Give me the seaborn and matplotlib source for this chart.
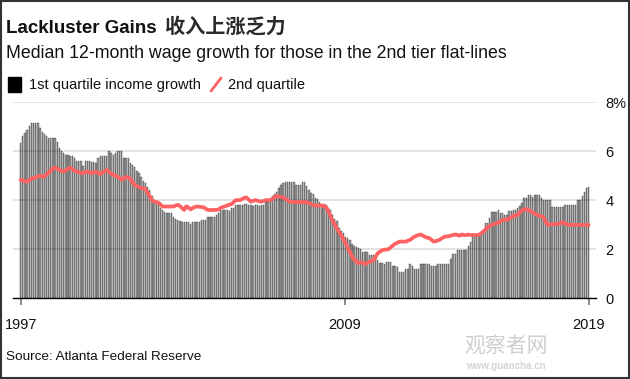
import matplotlib
matplotlib.use("Agg")
import matplotlib.pyplot as plt
from matplotlib.patches import Rectangle
from matplotlib.lines import Line2D
import numpy as np
import pandas as pd
import seaborn as sns

# Monthly values, Jan 1997 .. Jan 2019
q1_growth = [
    6.33, 6.6, 6.72, 6.84, 7.03, 7.14, 7.14, 7.14, 7.14, 6.94,
    6.76, 6.7, 6.6, 6.53, 6.53, 6.53, 6.53, 6.39, 6.12, 6.0,
    5.94, 5.85, 5.85, 5.78, 5.78, 5.7, 5.6, 5.6, 5.6, 5.4,
    5.6, 5.6, 5.6, 5.55, 5.55, 5.51, 5.7, 5.81, 5.81, 5.81,
    5.81, 6.0, 5.92, 5.85, 5.92, 6.0, 6.0, 6.0, 5.71, 5.71,
    5.71, 5.51, 5.45, 5.37, 5.17, 5.1, 4.96, 4.8, 4.69, 4.53,
    4.4, 4.15, 4.0, 3.9, 3.81, 3.67, 3.6, 3.51, 3.47, 3.47,
    3.47, 3.31, 3.25, 3.2, 3.15, 3.1, 3.1, 3.1, 3.1, 3.02,
    3.1, 3.1, 3.1, 3.1, 3.2, 3.2, 3.2, 3.33, 3.33, 3.33,
    3.33, 3.4, 3.47, 3.6, 3.6, 3.6, 3.6, 3.55, 3.67, 3.67,
    3.81, 3.81, 3.81, 3.81, 3.84, 3.84, 3.81, 3.81, 3.77, 3.81,
    3.81, 3.77, 3.81, 3.81, 3.94, 3.94, 4.0, 4.15, 4.25, 4.35,
    4.49, 4.6, 4.69, 4.73, 4.73, 4.73, 4.73, 4.73, 4.6, 4.6,
    4.6, 4.73, 4.73, 4.56, 4.42, 4.3, 4.24, 4.1, 4.06, 3.94,
    3.81, 3.81, 3.81, 3.7, 3.6, 3.4, 3.25, 3.13, 2.86, 2.75,
    2.65, 2.51, 2.45, 2.38, 2.2, 2.15, 2.1, 2.07, 2.0, 1.9,
    1.9, 1.9, 1.77, 1.77, 1.77, 1.7, 1.55, 1.43, 1.43, 1.41,
    1.49, 1.49, 1.49, 1.33, 1.3, 1.29, 1.09, 1.09, 1.09, 1.18,
    1.18, 1.4, 1.33, 1.18, 1.18, 1.18, 1.4, 1.4, 1.4, 1.4,
    1.4, 1.33, 1.33, 1.33, 1.4, 1.4, 1.4, 1.4, 1.4, 1.4,
    1.59, 1.8, 1.8, 1.97, 1.97, 1.97, 1.97, 1.97, 2.13, 2.31,
    2.54, 2.54, 2.54, 2.54, 2.65, 2.79, 3.06, 3.06, 3.29, 3.51,
    3.51, 3.51, 3.58, 3.47, 3.47, 3.4, 3.4, 3.55, 3.55, 3.58,
    3.58, 3.67, 3.75, 3.88, 4.08, 4.08, 4.19, 4.19, 4.12, 4.2,
    4.2, 4.2, 4.1, 4.0, 4.0, 4.0, 4.0, 3.74, 3.71, 3.71,
    3.71, 3.71, 3.71, 3.81, 3.81, 3.81, 3.81, 3.81, 3.81, 4.0,
    4.0, 4.15, 4.35, 4.49, 4.53,
]
q2_growth = [
    4.83, 4.8, 4.77, 4.76, 4.82, 4.88, 4.9, 4.93, 4.97, 4.99,
    4.97, 4.95, 5.05, 5.13, 5.2, 5.3, 5.33, 5.28, 5.23, 5.2,
    5.17, 5.22, 5.28, 5.33, 5.27, 5.2, 5.17, 5.14, 5.12, 5.1,
    5.14, 5.17, 5.12, 5.1, 5.14, 5.17, 5.1, 5.06, 5.12, 5.18,
    5.23, 5.16, 5.08, 5.03, 5.0, 4.96, 4.9, 4.83, 4.9, 4.95,
    4.93, 4.86, 4.74, 4.62, 4.57, 4.53, 4.5, 4.48, 4.45, 4.3,
    4.15, 4.0, 3.94, 3.92, 3.9, 3.82, 3.74, 3.74, 3.74, 3.74,
    3.74, 3.74, 3.78, 3.81, 3.76, 3.68, 3.6, 3.75, 3.7, 3.62,
    3.68, 3.72, 3.74, 3.73, 3.72, 3.71, 3.65, 3.6, 3.6, 3.6,
    3.6, 3.6, 3.62, 3.69, 3.72, 3.75, 3.78, 3.82, 3.84, 3.92,
    4.0, 4.0, 4.0, 4.05, 4.1, 4.11, 4.02, 3.94, 3.97, 4.0,
    3.98, 3.95, 3.94, 3.97, 4.0, 4.0, 4.0, 4.05, 4.12, 4.17,
    4.15, 4.13, 4.11, 4.05, 4.0, 3.94, 3.93, 3.92, 3.92, 3.92,
    3.92, 3.92, 3.92, 3.91, 3.88, 3.85, 3.8, 3.78, 3.78, 3.78,
    3.78, 3.78, 3.7, 3.55, 3.35, 3.15, 3.0, 2.85, 2.7, 2.55,
    2.41, 2.25, 2.07, 1.9, 1.7, 1.58, 1.5, 1.43, 1.47, 1.45,
    1.4, 1.43, 1.48, 1.52, 1.55, 1.7, 1.84, 1.9, 1.96, 1.98,
    1.99, 2.0, 2.08, 2.15, 2.22, 2.26, 2.31, 2.31, 2.31, 2.31,
    2.35, 2.38, 2.45, 2.51, 2.55, 2.58, 2.6, 2.55, 2.5, 2.47,
    2.45, 2.38, 2.31, 2.33, 2.36, 2.4, 2.46, 2.51, 2.52, 2.53,
    2.56, 2.58, 2.6, 2.58, 2.55, 2.6, 2.58, 2.57, 2.6, 2.58,
    2.58, 2.58, 2.58, 2.58, 2.65, 2.72, 2.8, 2.9, 2.95, 2.99,
    3.03, 3.06, 3.08, 3.14, 3.2, 3.2, 3.2, 3.25, 3.3, 3.36,
    3.38, 3.4, 3.5, 3.58, 3.62, 3.64, 3.6, 3.55, 3.5, 3.45,
    3.4, 3.37, 3.35, 3.3, 3.12, 2.99, 3.01, 3.02, 3.02, 3.02,
    3.04, 3.06, 3.1, 3.05, 3.0, 2.99, 2.99, 2.99, 2.99, 2.99,
    2.99, 2.99, 2.99, 2.99, 2.99,
]
year_labels = ["1997", "2009", "2019"]
year_pos = [0, 150.6, 264]
y_ticks = [0, 2, 4, 6, 8]
y_labels = ["0", "2", "4", "6", "8%"]

df = pd.DataFrame({"month": np.arange(len(q1_growth)), "q1": q1_growth, "q2": q2_growth})

sns.set_theme(style="white")
plt.rcParams["font.family"] = ["Liberation Sans", "Noto Sans CJK SC", "DejaVu Sans"]

fig = plt.figure(figsize=(6.3, 3.79), dpi=100)
ax = fig.add_axes([12.7 / 630, 1 - 298.3 / 379, 583.3 / 630, 196.3 / 379])

sns.barplot(data=df, x="month", y="q1", native_scale=True, color="#9c9c9c",
            saturation=1, width=0.62, edgecolor="#222222", linewidth=0.25, ax=ax, zorder=1)
sns.lineplot(data=df, x="month", y="q2", color="#ff6262", linewidth=2.7, ax=ax, zorder=5)

ax.set_xlim(-3.7, 267.4)
ax.set_ylim(0, 8)
ax.set_xlabel("")
ax.set_ylabel("")

# gridlines drawn over the bars, semi-transparent
for v in y_ticks[1:]:
    ax.axhline(v, color="black", alpha=0.14, lw=1.1, zorder=3)

ax.yaxis.tick_right()
ax.set_yticks(y_ticks)
ax.set_yticklabels(y_labels)
ax.tick_params(axis="y", length=0, pad=7, labelsize=10.5, labelcolor="#111111")

ax.set_xticks(year_pos)
ax.set_xticklabels(year_labels)
ax.tick_params(axis="x", length=5, width=1.2, color="#777777", pad=9, labelsize=10.5,
               labelcolor="#111111", bottom=True)

for s in ["top", "left", "right"]:
    ax.spines[s].set_visible(False)
ax.spines["bottom"].set_color("black")
ax.spines["bottom"].set_linewidth(1.0)
ax.spines["bottom"].set_zorder(6)

# header
fig.text(6 / 630, 1 - 33 / 379, "Lackluster Gains", fontsize=13.5, fontweight="bold",
         color="#111111", va="baseline")
fig.text(165 / 630, 1 - 33 / 379, "收入上涨乏力", fontsize=14.5, fontweight="bold",
         family=["Noto Sans CJK SC", "DejaVu Sans"], color="#2a2a2a", va="baseline")
fig.text(6 / 630, 1 - 58 / 379, "Median 12-month wage growth for those in the 2nd tier flat-lines",
         fontsize=12.8, color="#111111", va="baseline")

# legend
fig.add_artist(Rectangle((8 / 630, 1 - 92 / 379), 13 / 630, 15 / 379,
                         transform=fig.transFigure, color="black"))
fig.text(29 / 630, 1 - 85 / 379, "1st quartile income growth", fontsize=10.5,
         color="#111111", va="center")
fig.add_artist(Line2D([211 / 630, 221 / 630], [1 - 91 / 379, 1 - 78 / 379],
                      transform=fig.transFigure, color="#ff6262", lw=2))
fig.text(228 / 630, 1 - 85 / 379, "2nd quartile", fontsize=10.5, color="#111111", va="center")

# footer
fig.text(6 / 630, 1 - 357 / 379, "Source: Atlanta Federal Reserve", fontsize=9.7,
         color="#111111", va="center")
fig.text(506 / 630, 1 - 347 / 379, "观察者网", fontsize=15, color="#cfcfcf",
         family=["Noto Sans CJK SC", "DejaVu Sans"], ha="center", va="center")
fig.text(506 / 630, 1 - 366 / 379, "www.guancha.cn", fontsize=7, fontweight="bold",
         color="#d4d4d4", ha="center", va="center")

# outer frame
fig.add_artist(Rectangle((0.0015, 0.0025), 0.997, 0.995, transform=fig.transFigure,
                         fill=False, edgecolor="#333333", lw=1.5))

fig.savefig("out.png", dpi=100)
